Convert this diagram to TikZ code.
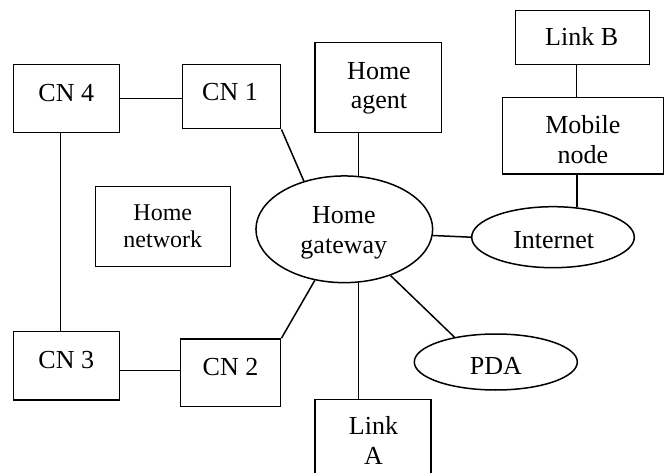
\documentclass[tikz,border=0pt]{standalone}
\usepackage{fontspec}
\setmainfont{Liberation Serif}
\usetikzlibrary{shapes.geometric}
\tikzset{
  box/.style={draw, rectangle, line width=1.5pt, inner sep=0pt},
  oval/.style={draw, ellipse, line width=1.5pt, inner sep=0pt},
  lbl/.style={anchor=base, align=center, inner sep=0pt, font=\fontsize{26}{29.5}\selectfont},
  small/.style={font=\fontsize{24}{27}\selectfont},
  conn/.style={line width=1.5pt}
}
\begin{document}
\begin{tikzpicture}[x=1pt,y=-1pt]
\clip (0,0) rectangle (667,473);
% boxes
\node[box, minimum width=105.6pt, minimum height=67.6pt] (cn4) at (66.5,98.5) {};
\node[box, minimum width=98.4pt, minimum height=64pt] (cn1) at (231.5,96.7) {};
\node[box, minimum width=135.4pt, minimum height=80pt] (hnet) at (163,226.7) {};
\node[box, minimum width=126.7pt, minimum height=90pt] (ha) at (378.3,87.7) {};
\node[box, minimum width=133.6pt, minimum height=53.6pt] (linkb) at (582.5,37.5) {};
\node[box, minimum width=160.6pt, minimum height=76.7pt] (mn) at (583,135.7) {};
\node[oval, minimum width=176.7pt, minimum height=106.7pt] (gw) at (344.3,229.3) {};
\node[oval, minimum width=162.6pt, minimum height=61pt] (inet) at (553,237.2) {};
\node[oval, minimum width=163pt, minimum height=56pt] (pda) at (495.8,362) {};
\node[box, minimum width=105.6pt, minimum height=68.3pt] (cn3) at (66.5,365.8) {};
\node[box, minimum width=100pt, minimum height=67.7pt] (cn2) at (230.7,372.8) {};
\node[box, minimum width=116pt, minimum height=90.7pt] (linka) at (373,444.7) {};
% labels (base = baseline of the last line)
\node[lbl] (cn4t) at (66.3,101.5) {CN 4};
\node[lbl] (cn1t) at (230,101) {CN 1};
\node[lbl, small] (hnett) at (162.8,247.7) {Home\\network};
\node[lbl] (hat) at (379,109) {Home\\agent};
\node[lbl] (linkbt) at (581.7,46) {Link B};
\node[lbl] (mnt) at (582.8,163.3) {Mobile\\node};
\node[lbl] (gwt) at (343.8,253.3) {Home\\gateway};
\node[lbl] (inett) at (553.7,248.3) {Internet};
\node[lbl] (pdat) at (495.8,374) {PDA};
\node[lbl] (cn2t) at (230.5,375) {CN 2};
\node[lbl] (cn3t) at (66.3,368.3) {CN 3};
\node[lbl] (linkat) at (373.5,464) {Link\\A};
% connectors
\draw[conn] (cn4.east) -- (cn4.east -| cn1.west);
\draw[conn] (cn1.south east) -- (gw.130);
\draw[conn] (ha.south -| gw.75) -- (gw.75);
\draw[conn] ([xshift=-6pt]linkb.south) -- ([xshift=-6pt]linkb.south |- mn.north);
\draw[conn] (mn.south -| inet.51) -- (inet.51);
\draw[conn] (gw.-4) -- (inet.west);
\draw[conn] (gw.-45) -- (pda.149);
\draw[conn] (gw.-75) -- (gw.-75 |- linka.north);
\draw[conn] (gw.-120) -- (cn2.north east);
\draw[conn] ([yshift=-4.9pt]cn3.east) -- ([yshift=-4.9pt]cn3.east -| cn2.west);
\draw[conn] ([xshift=-6pt]cn4.south) -- ([xshift=-6pt]cn4.south |- cn3.north);
\end{tikzpicture}
\end{document}
